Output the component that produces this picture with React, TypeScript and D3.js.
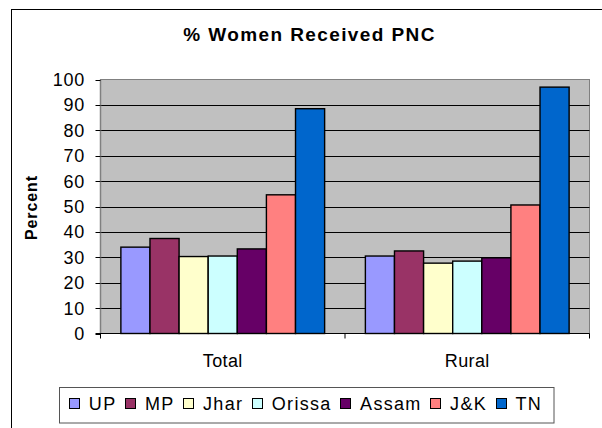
import React, { useEffect, useRef } from "react";
import * as d3 from "d3";

const categories = ["Total", "Rural"];
const seriesNames = ["UP", "MP", "Jhar", "Orissa", "Assam", "J&K", "TN"];
const seriesColors = ["#9999FF", "#993366", "#FFFFCC", "#CCFFFF", "#660066", "#FF8080", "#0066CC"];
const totalValues = [34, 37.4, 30.3, 30.5, 33.3, 54.6, 88.5];
const ruralValues = [30.5, 32.5, 27.7, 28.5, 29.8, 50.6, 97];
const yTicks = [0, 10, 20, 30, 40, 50, 60, 70, 80, 90, 100];
const titleText = "% Women Received PNC";
const yAxisTitle = "Percent";

const W = 602;
const H = 428;
const FONT = "'Liberation Sans', Arial, sans-serif";

export default function App() {
  const ref = useRef<SVGSVGElement | null>(null);

  useEffect(() => {
    const svg = d3.select(ref.current);
    svg.selectAll("*").remove();

    const plot = { left: 100.5, right: 589.5, top: 79.5, bottom: 333.5 };

    svg.append("rect").attr("x", 0).attr("y", 0).attr("width", W).attr("height", H).attr("fill", "#fff");
    // outer chart border (extends beyond view right/bottom)
    svg.append("rect").attr("x", 11.5).attr("y", 9.5).attr("width", 800).attr("height", 600)
      .attr("fill", "none").attr("stroke", "#000").attr("stroke-width", 1);

    // title
    svg.append("text").attr("x", 309.5).attr("y", 41).attr("text-anchor", "middle")
      .attr("font-family", FONT).attr("font-size", 19).attr("font-weight", "bold")
      .attr("letter-spacing", 1.4).text(titleText);

    const y = d3.scaleLinear().domain([0, 100]).range([plot.bottom, plot.top]);
    const x0 = d3.scaleBand<string>().domain(categories).range([plot.left, plot.right]).paddingInner(0).paddingOuter(0);
    const x1 = d3.scaleBand<string>().domain(seriesNames).range([0, x0.bandwidth()]).paddingInner(0).paddingOuter(0.7);

    // plot area
    svg.append("rect").attr("x", plot.left).attr("y", plot.top)
      .attr("width", plot.right - plot.left).attr("height", plot.bottom - plot.top)
      .attr("fill", "#C0C0C0").attr("stroke", "#808080").attr("stroke-width", 1);

    // gridlines
    svg.append("g").selectAll("line").data(yTicks.filter((t) => t > 0 && t < 100)).join("line")
      .attr("x1", plot.left).attr("x2", plot.right)
      .attr("y1", (d) => Math.round(y(d)) + 0.5).attr("y2", (d) => Math.round(y(d)) + 0.5)
      .attr("stroke", "#000").attr("stroke-width", 1);

    // y axis
    const yAxis = svg.append("g");
    yAxis.append("line").attr("x1", plot.left).attr("x2", plot.left).attr("y1", plot.top).attr("y2", plot.bottom)
      .attr("stroke", "#808080").attr("stroke-width", 1.5);
    yAxis.selectAll("line.tick").data(yTicks).join("line").attr("class", "tick")
      .attr("x1", plot.left - 5).attr("x2", plot.left)
      .attr("y1", (d) => Math.round(y(d)) + 0.5).attr("y2", (d) => Math.round(y(d)) + 0.5)
      .attr("stroke", "#000");
    yAxis.selectAll("text").data(yTicks).join("text")
      .attr("x", 85).attr("y", (d) => y(d)).attr("dy", "0.36em").attr("text-anchor", "end")
      .attr("font-family", FONT).attr("font-size", 18).attr("letter-spacing", 0.7)
      .text((d) => String(d));

    // y title
    svg.append("text").attr("transform", "translate(37,207.5) rotate(-90)")
      .attr("text-anchor", "middle").attr("font-family", FONT).attr("font-size", 16)
      .attr("font-weight", "bold").attr("letter-spacing", 0.9).text(yAxisTitle);

    // bars
    const seriesData = [totalValues, ruralValues];
    const groups = svg.append("g").selectAll("g").data(categories).join("g")
      .attr("transform", (c) => `translate(${x0(c)},0)`);
    groups.selectAll("rect").data((c, ci) => seriesNames.map((s, si) => ({ s, si, v: seriesData[ci][si] })))
      .join("rect")
      .attr("x", (d) => x1(d.s) as number)
      .attr("width", x1.bandwidth())
      .attr("y", (d) => y(d.v))
      .attr("height", (d) => plot.bottom - y(d.v))
      .attr("fill", (d) => seriesColors[d.si])
      .attr("stroke", "#000").attr("stroke-width", 1.4);

    // x axis
    svg.append("line").attr("x1", plot.left - 5).attr("x2", plot.right).attr("y1", plot.bottom).attr("y2", plot.bottom)
      .attr("stroke", "#000").attr("stroke-width", 1);
    const xTickPos = [plot.left, ...categories.map((c) => (x0(c) as number) + x0.bandwidth())];
    svg.append("g").selectAll("line").data(xTickPos).join("line")
      .attr("x1", (d) => d).attr("x2", (d) => d).attr("y1", plot.bottom).attr("y2", plot.bottom + 5)
      .attr("stroke", "#000");
    svg.append("g").selectAll("text").data(categories).join("text")
      .attr("x", (c) => (x0(c) as number) + x0.bandwidth() / 2).attr("y", 367)
      .attr("text-anchor", "middle").attr("font-family", FONT).attr("font-size", 18)
      .attr("letter-spacing", 0.4).text((c) => c);

    // legend
    const lg = { x: 59.5, y: 387.5, w: 494.5, h: 35.5 };
    svg.append("rect").attr("x", lg.x).attr("y", lg.y).attr("width", lg.w).attr("height", lg.h)
      .attr("fill", "#fff").attr("stroke", "#555").attr("stroke-width", 1);
    const legendG = svg.append("g");
    const sw = 10;
    const gapSwText = 10;
    const gapItem = 8.5;
    const texts = legendG.selectAll("text").data(seriesNames).join("text")
      .attr("font-family", FONT).attr("font-size", 18).attr("letter-spacing", 1.3)
      .attr("y", 410).text((d) => d);
    const widths: number[] = [];
    texts.each(function () {
      widths.push((this as SVGTextElement).getComputedTextLength());
    });
    const total = widths.reduce((a, b) => a + b, 0) + seriesNames.length * (sw + gapSwText) + (seriesNames.length - 1) * gapItem;
    let cx = 305.5 - total / 2;
    const xs: number[] = [];
    widths.forEach((w) => {
      xs.push(cx);
      cx += sw + gapSwText + w + gapItem;
    });
    texts.attr("x", (d, i) => xs[i] + sw + gapSwText);
    legendG.selectAll("rect").data(seriesNames).join("rect")
      .attr("x", (d, i) => Math.round(xs[i]) + 0.5).attr("y", 398.5).attr("width", sw).attr("height", sw)
      .attr("fill", (d, i) => seriesColors[i]).attr("stroke", "#000").attr("stroke-width", 1);
  }, []);

  return (
    <svg
      ref={ref}
      width={W}
      height={H}
      style={{ position: "fixed", left: 0, top: 0, display: "block" }}
    />
  );
}
